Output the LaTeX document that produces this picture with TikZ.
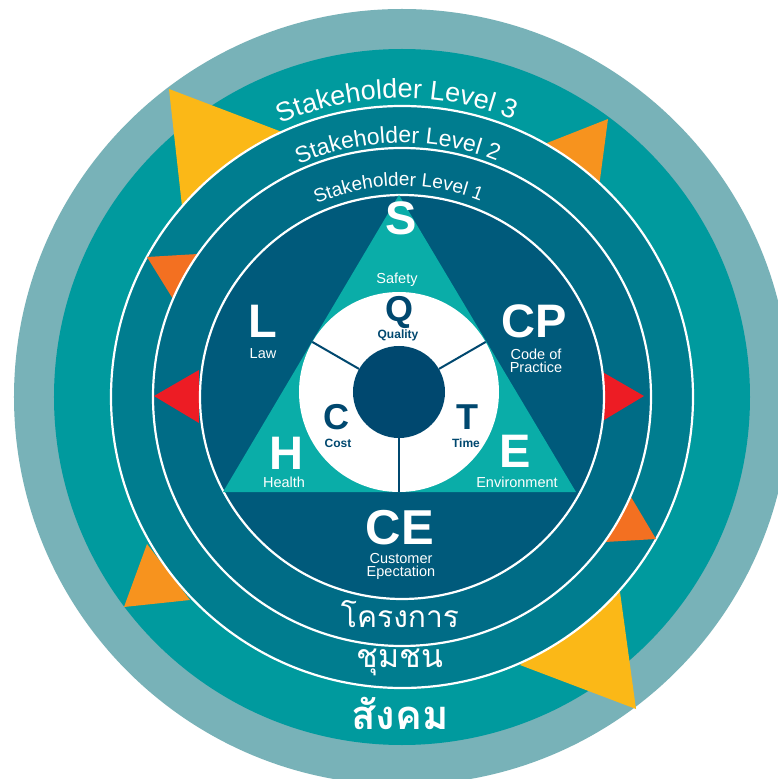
\documentclass[tikz,border=0pt]{standalone}
\usepackage{fontspec}
\setmainfont{Liberation Sans}
\newfontfamily\thaifont[Script=Thai]{Loma}
\usetikzlibrary{decorations.text}
\definecolor{ringgrey}{HTML}{78B2B8}
\definecolor{ringteal}{HTML}{009A9E}
\definecolor{ringtwo}{HTML}{007D8F}
\definecolor{ringone}{HTML}{006C86}
\definecolor{coreblue}{HTML}{005A7B}
\definecolor{triteal}{HTML}{0AADA8}
\definecolor{hubnavy}{HTML}{00486F}
\definecolor{flagyellow}{HTML}{FBB817}
\definecolor{flagorange}{HTML}{F7931E}
\definecolor{flagrust}{HTML}{F37021}
\definecolor{flagred}{HTML}{ED1C24}
\begin{document}
\begin{tikzpicture}[x=1pt,y=1pt,
  ring/.style={draw=white,line width=2.2pt},
  bigletter/.style={text=white,font=\fontsize{47}{47}\selectfont\bfseries,inner sep=0pt},
  smalllabel/.style={text=white,font=\fontsize{14.5}{13}\selectfont,inner sep=0pt,align=center},
  hubletter/.style={text=hubnavy,font=\fontsize{36}{36}\selectfont\bfseries,inner sep=0pt},
  hublabel/.style={text=hubnavy,font=\fontsize{12}{12}\selectfont\bfseries,inner sep=0pt},
  thaiword/.style={text=white,inner sep=0pt},
  arclabel/.style={decorate,decoration={text along path,text align=center,text color=white}}]
\useasboundingbox (-402,-382) rectangle (376,397);
\fill[white] (-402,-382) rectangle (376,397);
\clip (-402,-382) rectangle (376,397);
% outer bands
\fill[ringgrey] (0,0) circle (388);
\fill[ringteal] (0,0) circle (348);
\fill[flagyellow] (-233,308) -- (-120,265) -- (-220,191) -- cycle;
\fill[flagyellow] (234,-312) -- (118,-268) -- (218,-195) -- cycle;
\fill[flagorange] (206,278) -- (140,252) -- (197,210) -- cycle;
\fill[flagorange] (-278,-210) -- (-255,-147) -- (-212,-203) -- cycle;
% level 2
\filldraw[ring,fill=ringtwo] (0,0) circle (291);
\fill[flagrust] (-255,140) -- (-204,143) -- (-229,98) -- cycle;
\fill[flagrust] (254,-142) -- (229,-100) -- (203,-145) -- cycle;
% level 1
\filldraw[ring,fill=ringone] (0,0) circle (249);
\fill[flagred] (-248,1) -- (-203,27) -- (-203,-26) -- cycle;
\fill[flagred] (242,1) -- (197,27) -- (197,-26) -- cycle;
% core
\filldraw[ring,fill=coreblue] (0,0) circle (202);
\fill[triteal] (-3,202) -- (-179,-95) -- (174,-95) -- cycle;
\node[circle,fill=white,minimum size=200pt,inner sep=0pt] (wheel) at (-3,5) {};
\node[circle,fill=hubnavy,minimum size=92pt,inner sep=0pt] (hub) at (-3,5) {};
\foreach \a in {30,150,270}
  \draw[hubnavy,line width=2pt] (hub.\a) -- (wheel.\a);
% ring titles
\path[arclabel,decoration={text={|\fontsize{27}{27}\selectfont|Stakeholder Level 3}}]
  (136:299) arc[start angle=136,end angle=46,radius=299];
\path[arclabel,decoration={text={|\fontsize{23}{23}\selectfont|Stakeholder Level 2}}]
  (136:254) arc[start angle=136,end angle=46,radius=254];
\path[arclabel,decoration={text={|\fontsize{19}{19}\selectfont|Stakeholder Level 1}}]
  (136:211) arc[start angle=136,end angle=46,radius=211];
% letters
\node[bigletter] (s) at (-1,179) {S};
\node[smalllabel] (safety) at (-5,117) {Safety};
\node[bigletter] (l) at (-139,76) {L};
\node[smalllabel] (law) at (-139,43) {Law};
\node[bigletter] (cp) at (132,76) {CP};
\node[smalllabel] (codeof) at (134,36) {Code of\\Practice};
\node[bigletter] (h) at (-116,-56) {H};
\node[smalllabel] (health) at (-118,-85) {Health};
\node[bigletter] (e) at (113,-54) {E};
\node[smalllabel] (environment) at (115,-85) {Environment};
\node[bigletter,font=\fontsize{49}{49}\selectfont\bfseries] (ce) at (-2,-131) {CE};
\node[smalllabel] (customer) at (-1,-169) {Customer\\Epectation};
\node[hubletter] (q) at (-2,85) {Q};
\node[hublabel] (quality) at (-4,62) {Quality};
\node[hubletter] (c) at (-65,-20) {C};
\node[hublabel] (cost) at (-64,-46) {Cost};
\node[hubletter] (t) at (65,-20) {T};
\node[hublabel] (time) at (64,-46) {Time};
% thai words
\node[thaiword,font=\thaifont\fontsize{30}{30}\selectfont] (project) at (-2,-217) {โครงการ};
\node[thaiword,font=\thaifont\fontsize{32}{32}\selectfont] (community) at (-2,-265) {ชุมชน};
\node[thaiword,font=\thaifont\fontsize{40}{40}\selectfont\bfseries] (society) at (-2,-316) {สังคม};
\end{tikzpicture}
\end{document}
